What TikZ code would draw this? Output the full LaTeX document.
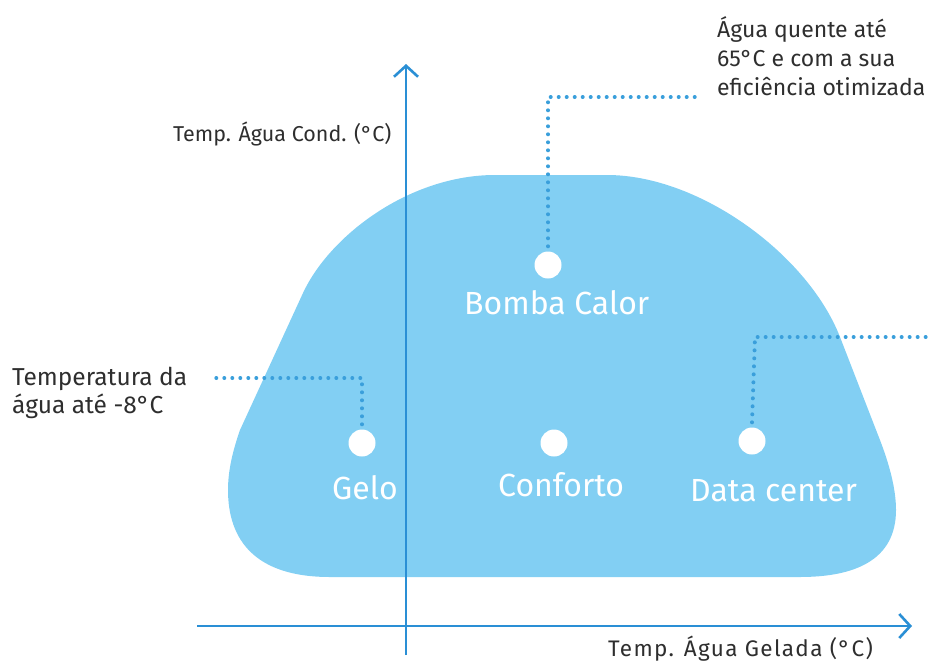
\documentclass[tikz,border=0pt]{standalone}
\usepackage{fontspec}
\setmainfont{Fira Sans}
\usetikzlibrary{arrows.meta}
\definecolor{blob}{HTML}{82CFF3}
\definecolor{axisc}{HTML}{2A8FD5}
\definecolor{leadc}{HTML}{3A9FDB}
\definecolor{txt}{HTML}{2E2E2E}
\begin{document}
\begin{tikzpicture}[x=1pt,y=-1pt,
  axisline/.style={draw=axisc,line width=2.6pt,-{Straight Barb[length=11pt,width=24pt,line width=2.6pt]}},
  leader/.style={draw=leadc,line width=4pt,line cap=round,dash pattern=on 0pt off 8pt},
  spot/.style={circle,fill=white,minimum size=27pt,inner sep=0pt},
  wlabel/.style={text=white,font=\fontsize{32}{36}\selectfont,anchor=base west,inner sep=0pt},
  dlabel/.style={text=txt,anchor=base west,inner sep=0pt,align=left},
]
\useasboundingbox (0,0) rectangle (928,664);
% blob
\fill[blob] (495,175) -- (607,175)
  .. controls (700,175) and (808,255) .. (840,337)
  -- (878,435)
  .. controls (890,465) and (896,490) .. (896,510)
  .. controls (896,560) and (855,577) .. (800,577)
  -- (330,577)
  .. controls (255,577) and (228,540) .. (228,490)
  .. controls (228,470) and (233,450) .. (240,430)
  -- (303,293)
  .. controls (330,235) and (410,175) .. (495,175) -- cycle;
% axes
\coordinate (yb) at (406,655);
\coordinate (yt) at (406,64);
\coordinate (xl) at (197,626);
\coordinate (xr) at (912,626);
\draw[axisline] (yb) -- (yt);
\draw[axisline] (xl) -- (xr);
% spots
\node[spot] (bomba) at (548,265) {};
\node[spot] (gelo) at (362,443) {};
\node[spot] (conf) at (554,443) {};
\node[spot] (data) at (752,441) {};
% labels
\node[wlabel] (lbomba) at (464,314) {Bomba Calor};
\node[wlabel] (lgelo) at (332,499) {Gelo};
\node[wlabel] (lconf) at (498,496) {Conforto};
\node[wlabel] (ldata) at (690,501) {Data center};
% leaders
\coordinate (gc) at (362,378);
\coordinate (ge) at (213,378);
\draw[leader] ([yshift=5pt]gelo.north) -- (gc) -- (ge);
\coordinate (bc) at (548,97);
\coordinate (be) at (700,97);
\draw[leader] ([yshift=5pt]bomba.north) -- (bc) -- (be);
\coordinate (dc) at (755,337);
\coordinate (de) at (932,337);
\draw[leader] ([yshift=5pt]data.north) -- (dc) -- (de);
% dark texts
\node[dlabel,font=\fontsize{24.5}{28}\selectfont] (tgelo) at (12,413) {Temperatura da\\água até -8°C};
\node[dlabel,font=\fontsize{23}{29}\selectfont] (tbomba) at (717,95) {Água quente até\\65°C e com a sua\\eficiência otimizada};
\node[dlabel,font=\fontsize{21.5}{28}\selectfont] (ty) at (173,141) {Temp. Água Cond. (°C)};
\node[dlabel,font=\fontsize{22.5}{28}\selectfont\addfontfeature{LetterSpace=6}] (tx) at (608,656) {Temp. Água Gelada (°C)};
\end{tikzpicture}
\end{document}
